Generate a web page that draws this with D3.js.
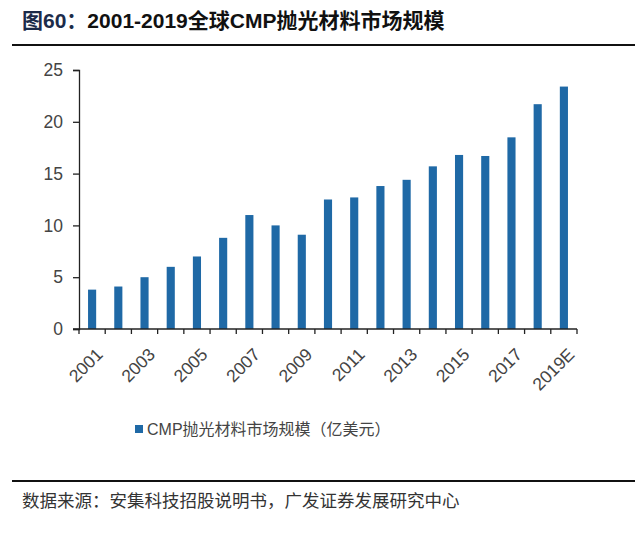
<!DOCTYPE html>
<html>
<head>
<meta charset="utf-8">
<script src="https://cdn.jsdelivr.net/npm/d3@7"></script>
<style>
  body { margin: 0; background: #fff; }
  svg { display: block; }
</style>
</head>
<body>
<div id="app"></div>
<script>
const years = ['2001', '2002', '2003', '2004', '2005', '2006', '2007', '2008', '2009', '2010',
  '2011', '2012', '2013', '2014', '2015', '2016', '2017', '2018', '2019E'];
const market = [3.8, 4.1, 5.0, 6.0, 7.0, 8.8, 11.0, 10.0, 9.1, 12.5,
  12.7, 13.8, 14.4, 15.7, 16.8, 16.7, 18.5, 21.7, 23.4];
const yTicks = [0, 5, 10, 15, 20, 25];
const seriesName = 'CMP抛光材料市场规模（亿美元）';

const width = 640;
const height = 536;
const latin = '"Liberation Sans", Arial, "Noto Sans CJK SC", sans-serif';
const cjk = '"Noto Sans CJK SC", sans-serif';
const barColor = '#1f69a6';

const svg = d3.select('#app').append('svg')
  .attr('width', width)
  .attr('height', height);

// title
const title = svg.append('text')
  .attr('x', 22)
  .attr('y', 28)
  .attr('font-family', latin)
  .attr('font-weight', 'bold')
  .attr('font-size', 21);
title.append('tspan').attr('fill', '#1c2b4a').text('图60：');
title.append('tspan').attr('fill', '#111').text('2001-2019全球CMP抛光材料市场规模');

svg.append('line')
  .attr('x1', 12).attr('x2', 635)
  .attr('y1', 45).attr('y2', 45)
  .attr('stroke', '#111').attr('stroke-width', 2);

const plot = { left: 79, right: 577, top: 70, bottom: 329 };

const x = d3.scaleBand()
  .domain(years)
  .range([plot.left, plot.right])
  .paddingInner(0.69)
  .paddingOuter(0.345);

const y = d3.scaleLinear()
  .domain([0, 25])
  .range([plot.bottom, plot.top]);

svg.append('g')
  .selectAll('rect')
  .data(years)
  .join('rect')
  .attr('x', d => x(d))
  .attr('width', x.bandwidth())
  .attr('y', (d, i) => y(market[i]))
  .attr('height', (d, i) => y(0) - y(market[i]))
  .attr('fill', barColor);

// y axis
const yAxis = svg.append('g')
  .attr('transform', `translate(${plot.left},0)`)
  .call(d3.axisLeft(y).tickValues(yTicks).tickSize(6).tickPadding(10));
yAxis.select('.domain').attr('stroke', '#222').attr('stroke-width', 1.3);
yAxis.selectAll('.tick line').attr('stroke', '#222').attr('stroke-width', 1.3);
yAxis.selectAll('.tick text')
  .attr('font-family', latin)
  .attr('font-size', 17.5)
  .attr('fill', '#444');

// x axis: ticks on band boundaries, labels every other year
const xAxis = svg.append('g')
  .attr('transform', `translate(0,${plot.bottom})`);
const step = x.step();
const bounds = d3.range(years.length + 1).map(i => plot.left + i * step);
xAxis.append('line')
  .attr('x1', plot.left - 6).attr('x2', plot.right)
  .attr('stroke', '#222').attr('stroke-width', 1.3);
xAxis.selectAll('.tk')
  .data(bounds)
  .join('line')
  .attr('class', 'tk')
  .attr('x1', d => d).attr('x2', d => d)
  .attr('y1', 0).attr('y2', 5)
  .attr('stroke', '#222').attr('stroke-width', 1.3);
xAxis.selectAll('.lbl')
  .data(years.filter((d, i) => i % 2 === 0))
  .join('text')
  .attr('class', 'lbl')
  .attr('transform', d => `translate(${x(d) + x.bandwidth() / 2 + 3},${18}) rotate(-45)`)
  .attr('text-anchor', 'end')
  .attr('dy', '0.7em')
  .attr('font-family', latin)
  .attr('font-size', 17.5)
  .attr('fill', '#444')
  .text(d => d);

// legend
const legend = svg.append('g').attr('transform', 'translate(135,425)');
legend.append('rect')
  .attr('width', 8).attr('height', 8)
  .attr('fill', barColor);
legend.append('text')
  .attr('x', 12)
  .attr('y', 10)
  .attr('font-family', latin)
  .attr('font-size', 16)
  .attr('fill', '#444')
  .text(seriesName);

// source
svg.append('line')
  .attr('x1', 12).attr('x2', 635)
  .attr('y1', 481).attr('y2', 481)
  .attr('stroke', '#111').attr('stroke-width', 2);

svg.append('text')
  .attr('x', 22)
  .attr('y', 507)
  .attr('font-family', cjk)
  .attr('font-size', 17.5)
  .attr('fill', '#333')
  .text('数据来源：安集科技招股说明书，广发证券发展研究中心');
</script>
</body>
</html>
